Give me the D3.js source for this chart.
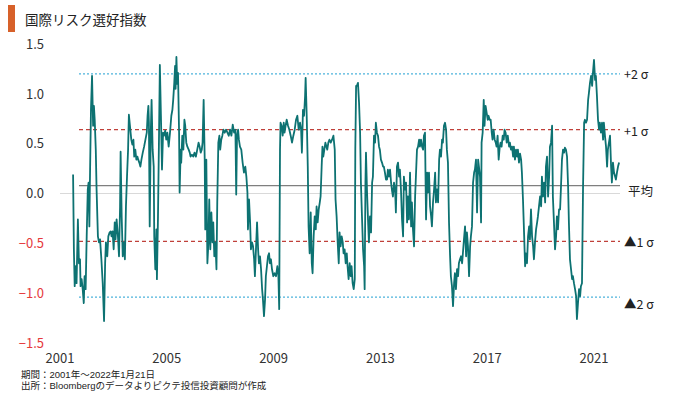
<!DOCTYPE html>
<html>
<head>
<meta charset="utf-8">
<script src="https://cdn.jsdelivr.net/npm/d3@7"></script>
<style>
  body { margin: 0; background: #fff; }
  text { font-family: "Noto Sans CJK JP", "Noto Sans", sans-serif; }
  text.note { font-family: "Liberation Sans", "Noto Sans CJK JP", sans-serif; }
</style>
</head>
<body>
<div id="chart"></div>
<script>
const width = 680;
const height = 397;

const title = "国際リスク選好指数";
const notes = ["期間：2001年～2022年1月21日", "出所：Bloombergのデータよりピクテ投信投資顧問が作成"];

// weekly-ish readings, decimal years
const dates = [
  2001.49, 2001.52, 2001.55, 2001.59, 2001.62, 2001.67, 2001.71, 2001.75, 2001.77, 2001.81,
  2001.85, 2001.89, 2001.92, 2001.96, 2002.00, 2002.04, 2002.07, 2002.10, 2002.12, 2002.16,
  2002.20, 2002.24, 2002.27, 2002.30, 2002.34, 2002.37, 2002.42, 2002.46, 2002.50, 2002.55,
  2002.60, 2002.65, 2002.69, 2002.72, 2002.77, 2002.81, 2002.86, 2002.90, 2002.93, 2002.97,
  2003.01, 2003.05, 2003.08, 2003.12, 2003.17, 2003.21, 2003.25, 2003.27, 2003.31, 2003.35,
  2003.40, 2003.43, 2003.47, 2003.51, 2003.55, 2003.58, 2003.62, 2003.67, 2003.71, 2003.75,
  2003.78, 2003.82, 2003.86, 2003.90, 2003.93, 2003.97, 2004.01, 2004.05, 2004.10, 2004.15,
  2004.20, 2004.25, 2004.28, 2004.31, 2004.33, 2004.36, 2004.40, 2004.43, 2004.47, 2004.51,
  2004.53, 2004.57, 2004.61, 2004.63, 2004.67, 2004.71, 2004.74, 2004.78, 2004.82, 2004.86,
  2004.89, 2004.94, 2004.98, 2005.02, 2005.07, 2005.12, 2005.17, 2005.21, 2005.24, 2005.28,
  2005.31, 2005.33, 2005.36, 2005.39, 2005.42, 2005.46, 2005.48, 2005.52, 2005.54, 2005.58,
  2005.62, 2005.66, 2005.69, 2005.73, 2005.77, 2005.82, 2005.86, 2005.89, 2005.94, 2005.99,
  2006.04, 2006.09, 2006.14, 2006.19, 2006.23, 2006.27, 2006.31, 2006.34, 2006.38, 2006.42,
  2006.44, 2006.48, 2006.52, 2006.56, 2006.59, 2006.63, 2006.67, 2006.71, 2006.74, 2006.78,
  2006.82, 2006.86, 2006.89, 2006.93, 2006.97, 2007.00, 2007.04, 2007.08, 2007.12, 2007.17,
  2007.22, 2007.27, 2007.32, 2007.37, 2007.42, 2007.47, 2007.52, 2007.57, 2007.60, 2007.63,
  2007.67, 2007.70, 2007.74, 2007.79, 2007.84, 2007.89, 2007.94, 2007.98, 2008.02, 2008.04,
  2008.08, 2008.12, 2008.15, 2008.19, 2008.23, 2008.27, 2008.30, 2008.34, 2008.38, 2008.42,
  2008.45, 2008.49, 2008.53, 2008.57, 2008.60, 2008.64, 2008.68, 2008.71, 2008.75, 2008.79,
  2008.83, 2008.86, 2008.90, 2008.94, 2008.99, 2009.04, 2009.09, 2009.14, 2009.18, 2009.21,
  2009.24, 2009.26, 2009.30, 2009.34, 2009.38, 2009.41, 2009.45, 2009.49, 2009.54, 2009.59,
  2009.64, 2009.69, 2009.74, 2009.79, 2009.84, 2009.89, 2009.94, 2009.99, 2010.03, 2010.06,
  2010.10, 2010.14, 2010.18, 2010.20, 2010.24, 2010.28, 2010.31, 2010.35, 2010.39, 2010.43,
  2010.46, 2010.50, 2010.54, 2010.58, 2010.61, 2010.65, 2010.69, 2010.73, 2010.76, 2010.80,
  2010.83, 2010.86, 2010.90, 2010.94, 2010.98, 2011.01, 2011.05, 2011.09, 2011.14, 2011.19,
  2011.24, 2011.29, 2011.32, 2011.36, 2011.40, 2011.44, 2011.47, 2011.51, 2011.55, 2011.59,
  2011.62, 2011.66, 2011.70, 2011.74, 2011.77, 2011.81, 2011.85, 2011.89, 2011.92, 2011.96,
  2012.00, 2012.04, 2012.06, 2012.09, 2012.12, 2012.16, 2012.20, 2012.24, 2012.27, 2012.31,
  2012.35, 2012.39, 2012.41, 2012.44, 2012.46, 2012.50, 2012.54, 2012.57, 2012.61, 2012.65,
  2012.69, 2012.72, 2012.76, 2012.80, 2012.83, 2012.87, 2012.91, 2012.95, 2012.98, 2013.02,
  2013.06, 2013.10, 2013.13, 2013.17, 2013.21, 2013.25, 2013.28, 2013.32, 2013.36, 2013.40,
  2013.43, 2013.47, 2013.51, 2013.55, 2013.58, 2013.62, 2013.66, 2013.70, 2013.73, 2013.77,
  2013.81, 2013.85, 2013.88, 2013.92, 2013.96, 2014.00, 2014.03, 2014.07, 2014.11, 2014.15,
  2014.18, 2014.22, 2014.26, 2014.30, 2014.33, 2014.37, 2014.41, 2014.45, 2014.48, 2014.52,
  2014.56, 2014.60, 2014.63, 2014.67, 2014.71, 2014.75, 2014.78, 2014.82, 2014.86, 2014.90,
  2014.93, 2014.97, 2015.01, 2015.05, 2015.08, 2015.12, 2015.16, 2015.20, 2015.23, 2015.27,
  2015.31, 2015.34, 2015.38, 2015.42, 2015.46, 2015.49, 2015.53, 2015.57, 2015.61, 2015.64,
  2015.68, 2015.72, 2015.76, 2015.79, 2015.83, 2015.87, 2015.91, 2015.94, 2015.98, 2016.02,
  2016.06, 2016.09, 2016.13, 2016.17, 2016.21, 2016.24, 2016.28, 2016.32, 2016.36, 2016.39,
  2016.43, 2016.47, 2016.51, 2016.54, 2016.58, 2016.62, 2016.66, 2016.69, 2016.73, 2016.77,
  2016.79, 2016.83, 2016.87, 2016.90, 2016.94, 2016.98, 2017.02, 2017.05, 2017.09, 2017.13,
  2017.17, 2017.20, 2017.24, 2017.28, 2017.32, 2017.35, 2017.39, 2017.43, 2017.47, 2017.50,
  2017.54, 2017.58, 2017.62, 2017.65, 2017.69, 2017.73, 2017.77, 2017.82, 2017.85, 2017.89,
  2017.93, 2017.97, 2018.00, 2018.04, 2018.08, 2018.12, 2018.15, 2018.19, 2018.23, 2018.27,
  2018.30, 2018.34, 2018.38, 2018.42, 2018.45, 2018.49, 2018.53, 2018.57, 2018.60, 2018.64,
  2018.68, 2018.72, 2018.75, 2018.79, 2018.83, 2018.87, 2018.90, 2018.94, 2018.98, 2019.02,
  2019.05, 2019.09, 2019.13, 2019.17, 2019.20, 2019.24, 2019.28, 2019.32, 2019.35, 2019.39,
  2019.43, 2019.46, 2019.50, 2019.54, 2019.58, 2019.61, 2019.65, 2019.69, 2019.73, 2019.76,
  2019.80, 2019.84, 2019.88, 2019.91, 2019.95, 2019.99, 2020.03, 2020.06, 2020.10, 2020.14,
  2020.18, 2020.21, 2020.25, 2020.29, 2020.33, 2020.36, 2020.40, 2020.44, 2020.48, 2020.51,
  2020.55, 2020.59, 2020.63, 2020.66, 2020.70, 2020.74, 2020.78, 2020.81, 2020.85, 2020.89,
  2020.93, 2020.96, 2021.00, 2021.04, 2021.07, 2021.11, 2021.15, 2021.19, 2021.22, 2021.26,
  2021.30, 2021.34, 2021.37, 2021.41, 2021.45, 2021.49, 2021.52, 2021.56, 2021.60, 2021.64,
  2021.67, 2021.71, 2021.75, 2021.79, 2021.82, 2021.86, 2021.90, 2021.94
];

const values = [
  0.19, -0.56, -0.93, -0.73, -0.90, -0.26, -0.70, -0.66, -0.93, -0.86,
  -0.96, -1.10, -0.83, -0.96, -0.43, 0.04, 0.11, -0.33, 0.11, 0.84,
  1.18, 0.68, 0.88, 0.74, 0.44, 0.04, -0.43, -0.49, -0.46, -0.66,
  -0.90, -1.28, -0.70, -0.49, -0.63, -0.43, -0.39, -0.38, -0.43, -0.38,
  -0.56, -0.29, -0.46, -0.26, -0.43, -0.63, -0.13, 0.42, -0.23, -0.63,
  -0.49, -0.66, -0.13, 0.17, 0.44, 0.79, 0.68, 0.54, 0.49, 0.54,
  0.37, 0.44, 0.34, 0.37, 0.34, 0.31, 0.27, 0.34, 0.41, 0.47,
  0.54, 0.61, 0.78, 0.88, 0.71, -0.33, 0.61, 0.94, 0.44, 0.27,
  -0.43, -0.76, -0.36, -0.86, -0.23, 0.61, 1.29, 0.78, 0.24, 0.61,
  0.58, 0.63, 0.54, 0.61, 0.47, 0.61, 0.78, 0.84, 0.94, 1.11,
  1.28, 1.05, 1.37, 1.10, 1.21, 0.61, 0.01, 0.44, 0.31, 0.58,
  0.44, 0.74, 0.68, 0.51, 0.47, 0.44, 0.41, 0.37, 0.39, 0.37,
  0.41, 0.37, 0.44, 0.51, 0.47, 0.41, 0.44, 0.51, 0.94, 0.34,
  -0.36, 0.34, -0.70, -0.49, -0.06, -0.56, -0.19, -0.49, -0.29, -0.63,
  -0.49, -0.76, -0.09, 0.51, 0.58, 0.44, 0.54, 0.58, 0.64, 0.61,
  0.64, 0.61, 0.58, 0.64, 0.58, 0.69, 0.61, 0.64, -0.01, 0.58,
  0.64, 0.54, 0.47, 0.44, 0.31, 0.21, 0.27, 0.17, 0.01, -0.36,
  -0.06, -0.29, -0.56, -0.49, -0.53, -0.66, -0.83, -0.56, -0.29, -0.56,
  -0.70, -0.63, -0.76, -0.96, -1.06, -1.23, -1.06, -0.83, -0.73, -0.63,
  -0.60, -0.70, -0.66, -0.76, -0.83, -0.80, -0.83, -0.73, -0.83, -1.16,
  0.44, 0.71, 0.68, 0.58, 0.71, 0.61, 0.68, 0.74, 0.68, 0.64,
  0.58, 0.51, 0.58, 0.64, 0.74, 0.78, 0.64, 0.71, 0.64, 0.41,
  0.84, 0.78, 0.98, 1.16, 0.78, 0.27, -0.33, -0.60, -0.19, -0.70,
  -0.80, -0.43, -0.23, -0.36, -0.13, -0.29, -0.16, -0.09, -0.03, 0.27,
  0.47, 0.37, 0.44, 0.51, 0.47, 0.44, 0.51, 0.54, 0.51, 0.54,
  0.58, 0.44, -0.06, -0.23, -0.49, -0.70, -0.39, -0.53, -0.43, -0.49,
  -0.60, -0.56, -0.70, -0.60, -0.73, -0.86, -0.70, -0.83, -0.73, -0.90,
  -0.96, -0.86, 0.44, 1.08, 1.08, 1.11, 0.91, 0.61, 0.11, -0.23,
  -0.56, -0.73, -0.96, 0.11, 0.41, 0.01, -0.29, -0.49, -0.23, -0.39,
  0.11, 0.17, 0.58, 0.51, 0.71, 0.61, 0.58, 0.47, 0.44, 0.34,
  0.31, 0.27, 0.27, 0.21, 0.14, 0.14, 0.24, 0.17, 0.24, 0.11,
  0.04, -0.03, 0.11, 0.04, -0.19, 0.27, 0.31, 0.17, 0.24, 0.04,
  -0.26, -0.43, 0.17, 0.04, 0.11, -0.29, -0.03, -0.26, 0.21, -0.33,
  -0.09, -0.36, -0.53, -0.03, 0.17, 0.44, 0.47, 0.54, 0.47, 0.54,
  0.47, 0.44, 0.58, 0.61, -0.26, 0.21, 0.01, 0.21, -0.13, -0.23,
  -0.33, -0.09, 0.04, 0.21, -0.09, 0.04, -0.09, 0.34, 0.44, 0.37,
  0.54, 0.51, 0.68, 0.71, 0.64, 0.44, 0.31, -0.29, -0.63, -0.83,
  -0.93, -1.13, -0.90, -0.80, -0.96, -0.76, -0.83, -0.70, -0.66, -0.63,
  -0.70, -0.60, -0.46, -0.33, -0.63, -0.39, -0.53, -0.83, -0.53, -0.43,
  -0.33, 0.11, 0.21, 0.24, 0.34, -0.19, 0.34, 0.27, 0.17, -0.29,
  0.51, 0.61, 0.94, 0.68, 0.88, 0.81, 0.74, 0.78, 0.74, 0.74,
  0.61, 0.54, 0.64, 0.54, 0.51, 0.47, 0.58, 0.34, 0.47, 0.51,
  0.47, 0.58, 0.54, 0.64, 0.61, 0.51, 0.58, 0.47, 0.51, 0.44,
  0.47, 0.37, 0.47, 0.34, 0.44, 0.37, 0.44, 0.31, 0.40, 0.34,
  0.21, -0.06, -0.39, -0.73, -0.60, -0.70, -0.43, -0.33, -0.46, -0.16,
  -0.43, -0.53, -0.66, -0.49, -0.36, -0.29, -0.23, -0.13, -0.03, -0.13,
  0.17, -0.03, 0.11, -0.09, 0.27, 0.37, -0.03, 0.17, 0.47, 0.51,
  0.68, -0.03, -0.29, -0.56, -0.43, -0.23, -0.36, -0.16, -0.16, 0.04,
  0.34, 0.44, 0.41, 0.46, 0.44, 0.37, 0.07, -0.29, -0.66, -0.76,
  -0.86, -0.83, -0.90, -0.96, -1.03, -1.26, -1.10, -0.96, -1.03, -0.93,
  -0.90, 0.07, 0.71, 0.74, 0.71, 0.74, 0.94, 1.01, 1.11, 1.18,
  1.08, 1.21, 1.34, 1.14, 1.18, 0.98, 0.74, 0.64, 0.71, 0.61,
  0.71, 0.54, 0.71, 0.58, 0.47, 0.27, 0.44, 0.51, 0.58, 0.27,
  0.11, 0.31, 0.21, 0.17, 0.14, 0.21, 0.27, 0.31
];

const yTicks = [1.5, 1.0, 0.5, 0.0, -0.5, -1.0, -1.5];
const xTicks = [2001, 2005, 2009, 2013, 2017, 2021];

const mean = 0.08;
const sigma = 0.56;
const bandLevels = [2, 1, 0, -1, -2];
const bandLabels = ["+2 σ", "+1 σ", "平均", "▲1 σ", "▲2 σ"];

const svg = d3.select("#chart")
  .append("svg")
    .attr("width", width)
    .attr("height", height);

const x = d3.scaleLinear().domain([2001, 2021]).range([60, 594]);
const y = d3.scaleLinear().domain([-1.5, 1.5]).range([343, 44]);

// title
svg.append("rect")
  .attr("x", 8).attr("y", 5)
  .attr("width", 7).attr("height", 27)
  .attr("fill", "#d7612a");
svg.append("text")
  .attr("x", 25).attr("y", 25)
  .style("font-size", "13.5px")
  .attr("fill", "#222")
  .text(title);

// zero line
svg.append("line")
  .attr("x1", 60).attr("x2", 620)
  .attr("y1", y(0)).attr("y2", y(0))
  .attr("stroke", "#d9d9d9")
  .attr("stroke-width", 1);

// mean and sigma bands
const bandStyle = lvl => {
  if (lvl === 0) return { stroke: "#7f7f7f", dash: null };
  if (Math.abs(lvl) === 1) return { stroke: "#c0403a", dash: "4,3" };
  return { stroke: "#4db3dc", dash: "2,2" };
};

svg.selectAll(".band")
  .data(bandLevels)
  .enter()
  .append("line")
    .attr("class", "band")
    .attr("x1", 79).attr("x2", 620)
    .attr("y1", d => y(mean + d * sigma))
    .attr("y2", d => y(mean + d * sigma))
    .attr("stroke", d => bandStyle(d).stroke)
    .attr("stroke-width", 1.3)
    .attr("stroke-dasharray", d => bandStyle(d).dash);

// series
const line = d3.line()
  .x((d, i) => x(dates[i]))
  .y(d => y(d));

svg.append("path")
  .datum(values)
  .attr("d", line)
  .attr("fill", "none")
  .attr("stroke", "#0d7272")
  .attr("stroke-width", 1.8)
  .attr("stroke-linejoin", "round");

// y labels
svg.selectAll(".ylab")
  .data(yTicks)
  .enter()
  .append("text")
    .attr("class", "ylab")
    .attr("x", 44)
    .attr("y", d => y(d))
    .attr("dy", "0.36em")
    .attr("text-anchor", "end")
    .style("font-size", "13px")
    .attr("fill", d => d < 0 ? "#e5383b" : "#333")
    .text(d => d3.format(".1f")(d));

// x labels
svg.selectAll(".xlab")
  .data(xTicks)
  .enter()
  .append("text")
    .attr("class", "xlab")
    .attr("x", d => x(d))
    .attr("y", 363)
    .attr("text-anchor", "middle")
    .style("font-size", "13px")
    .attr("fill", "#333")
    .text(d => d);

// band labels on the right
const labelNudge = [1, 2, 6, 1, 7];
svg.selectAll(".blab")
  .data(bandLevels)
  .enter()
  .append("text")
    .attr("class", "blab")
    .attr("x", (d, i) => i === 2 ? 628 : 624)
    .attr("y", (d, i) => y(mean + d * sigma) + labelNudge[i])
    .attr("dy", "0.36em")
    .style("font-size", "12.5px")
    .attr("fill", "#222")
    .text((d, i) => bandLabels[i]);

// notes
svg.selectAll(".note")
  .data(notes)
  .enter()
  .append("text")
    .attr("class", "note")
    .attr("x", 21)
    .attr("y", (d, i) => 378 + i * 11)
    .style("font-size", "9.5px")
    .attr("fill", "#222")
    .text(d => d);
</script>
</body>
</html>
